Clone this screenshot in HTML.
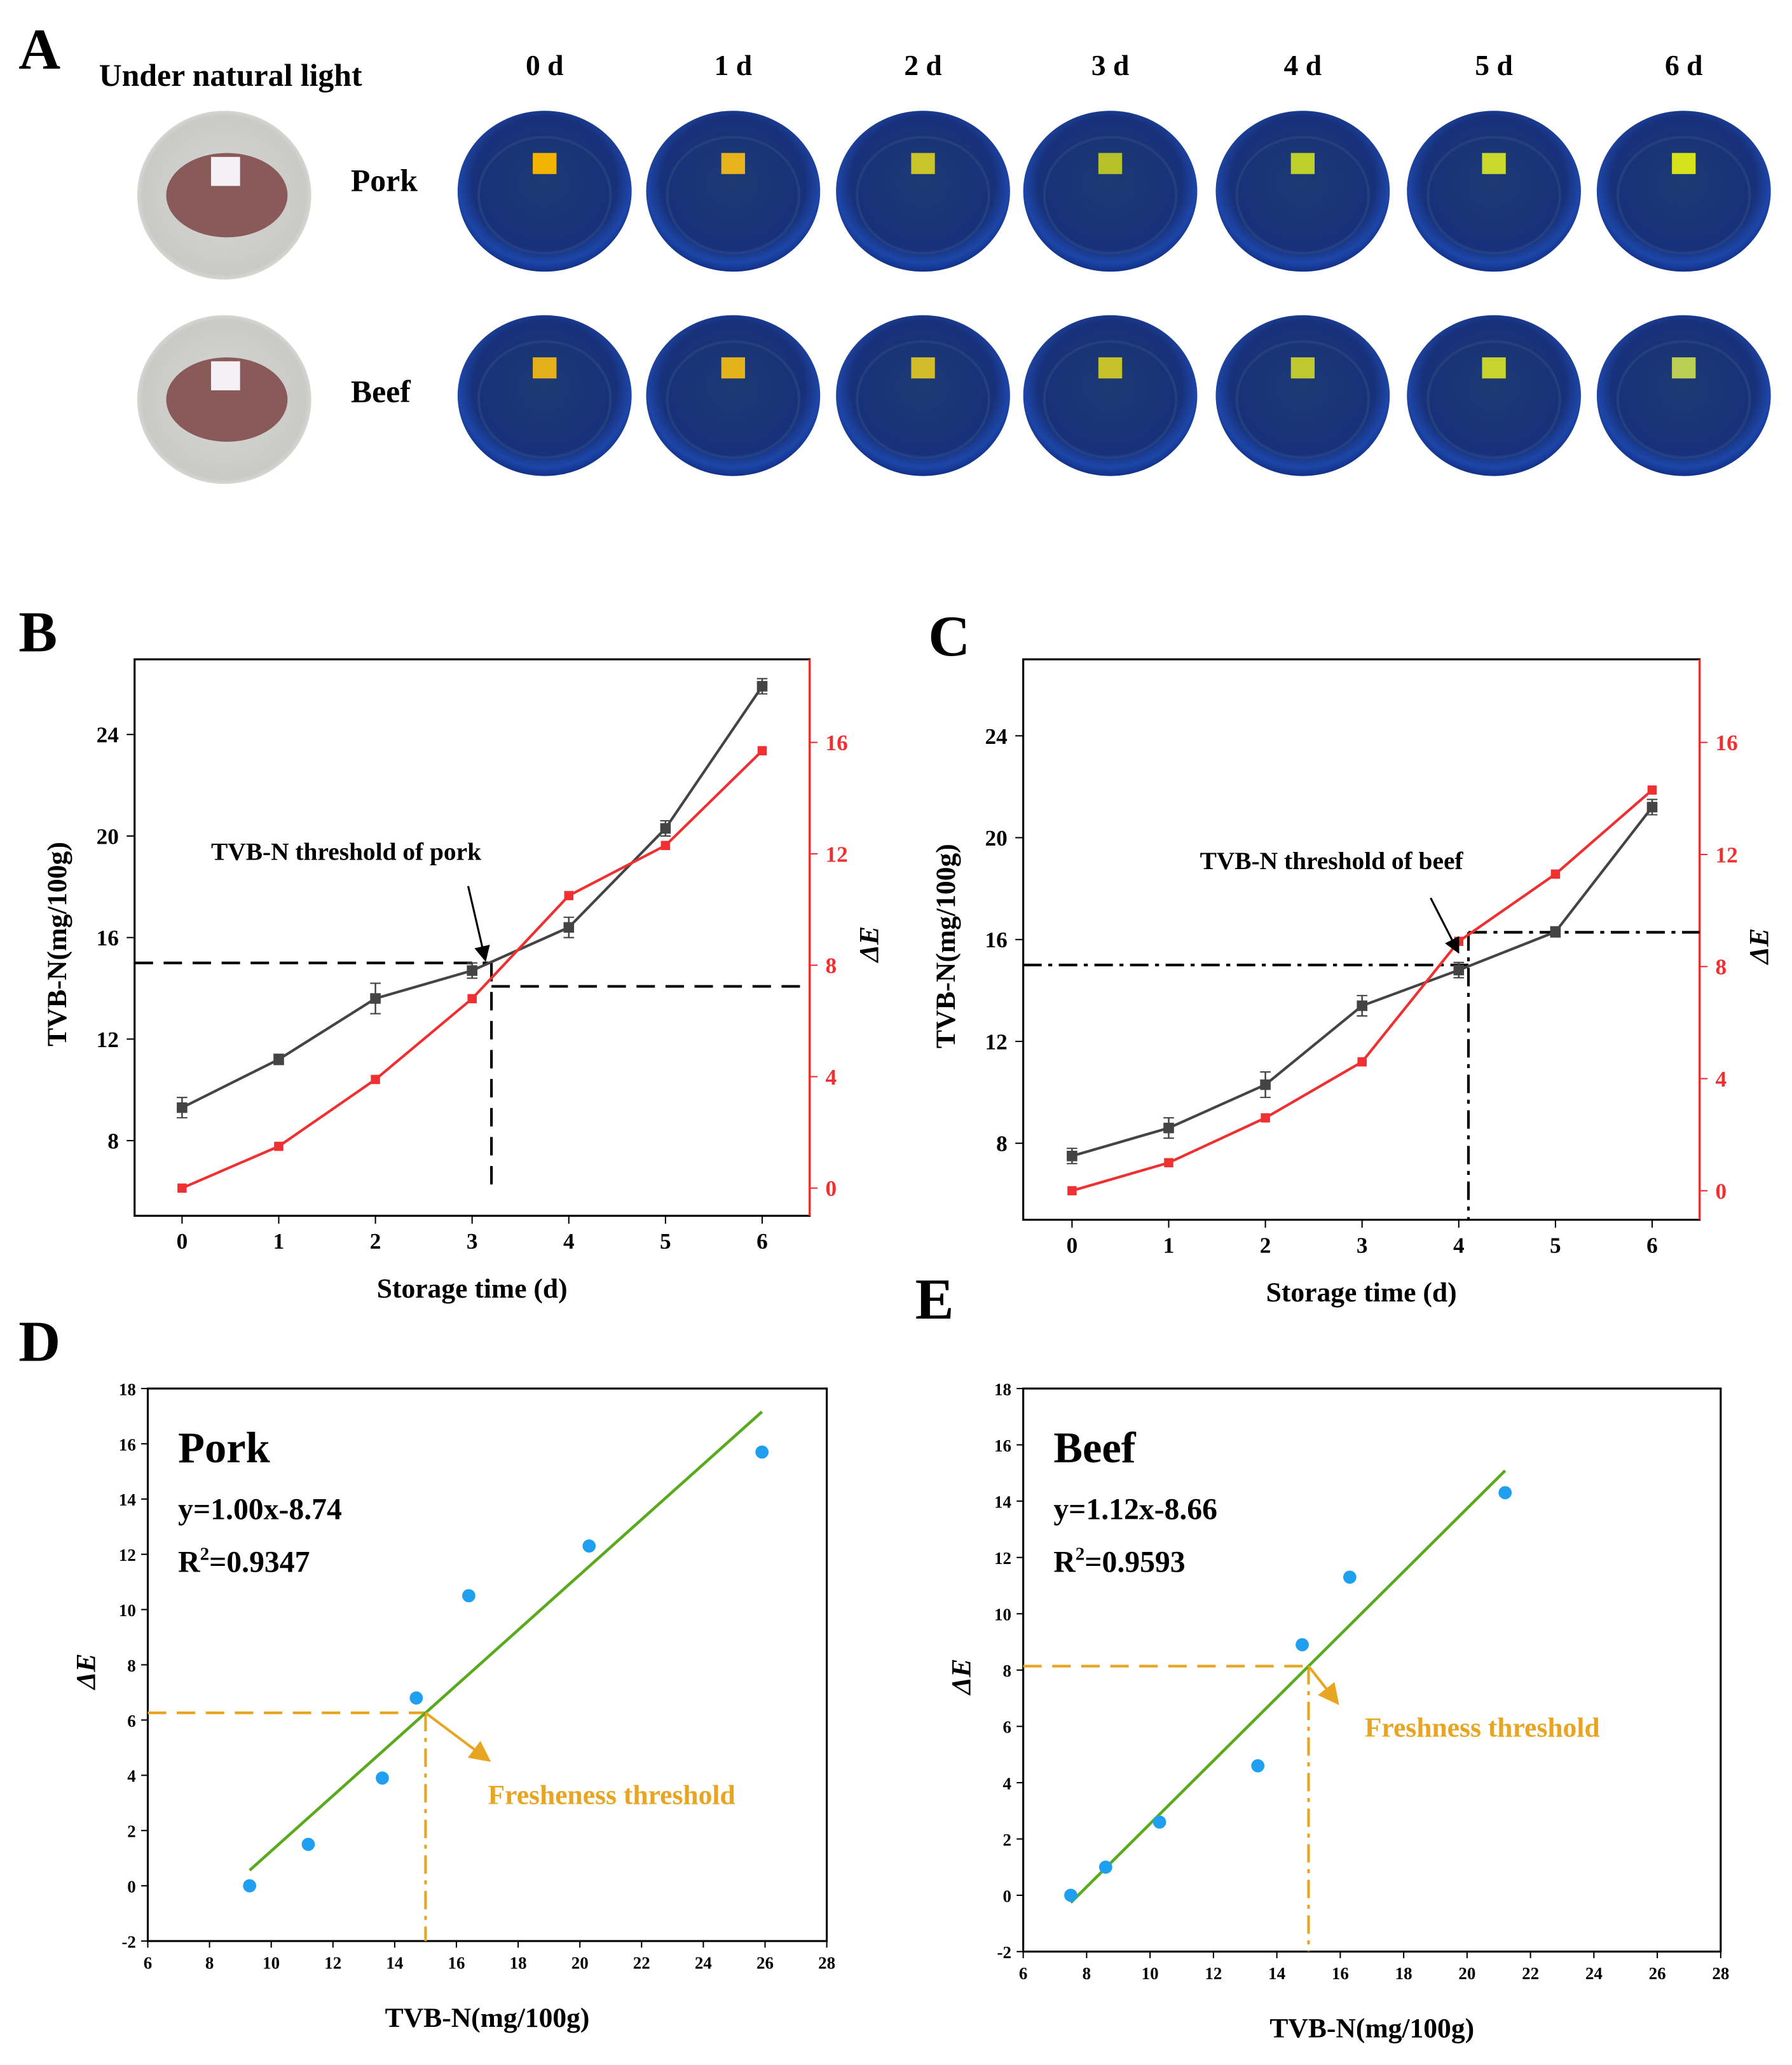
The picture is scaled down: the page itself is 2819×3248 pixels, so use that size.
<!DOCTYPE html>
<html><head><meta charset="utf-8"><style>
html,body{margin:0;padding:0;background:#fff;}
svg{display:block;font-family:"Liberation Serif",serif;font-weight:bold;}
</style></head><body>
<svg id="fig" width="2819" height="3248" viewBox="0 0 1359 1566" xmlns="http://www.w3.org/2000/svg">
<defs>
<radialGradient id="dish" cx="50%" cy="45%" r="55%"><stop offset="0" stop-color="#1d3a73"/><stop offset="0.75" stop-color="#18317a"/><stop offset="0.9" stop-color="#1d46a8"/><stop offset="1" stop-color="#123088"/></radialGradient>
<radialGradient id="plate" cx="50%" cy="50%" r="55%"><stop offset="0" stop-color="#d8d8d6"/><stop offset="0.85" stop-color="#c9c9c6"/><stop offset="1" stop-color="#e8e8e6"/></radialGradient>
<marker id="ah" markerWidth="8" markerHeight="8" refX="7" refY="4" orient="auto"><path d="M0,0 L8,4 L0,8 z" fill="#000"/></marker>
<marker id="aho" markerWidth="8" markerHeight="8" refX="7" refY="4" orient="auto"><path d="M0,0 L8,4 L0,8 z" fill="#e8a522"/></marker>
</defs>
<g id="panelA"></g>
<g id="panelB"></g>
<g id="panelC"></g>
<g id="panelD"></g>
<g id="panelE"></g>
</svg>
<script>
const days = [0,1,2,3,4,5,6];
const dayLabels = ["0 d","1 d","2 d","3 d","4 d","5 d","6 d"];
const porkTVBN = [9.3,11.2,13.6,14.7,16.4,20.3,25.9];
const porkTVBNErr = [0.4,0.2,0.6,0.3,0.4,0.3,0.3];
const porkDE = [0,1.5,3.9,6.8,10.5,12.3,15.7];
const beefTVBN = [7.5,8.6,10.3,13.4,14.8,16.3,21.2];
const beefTVBNErr = [0.3,0.4,0.5,0.4,0.3,0.2,0.3];
const beefDE = [0,1.0,2.6,4.6,8.9,11.3,14.3];
const leftTicks = [8,12,16,20,24];
const rightTicks = [0,4,8,12,16];
const regTicksY = [-2,0,2,4,6,8,10,12,14,16,18];
const regTicksX = [6,8,10,12,14,16,18,20,22,24,26,28];
const porkFit = [1.00,-8.74];
const beefFit = [1.12,-8.66];
const threshold = 15;
const porkSensorColors = ["#f2b400","#e8b21a","#c9c42a","#b6c22a","#bfcf2a","#c9d92c","#d6e21a"];
const beefSensorColors = ["#e3b01c","#e6b21a","#d2bc2a","#c5c22a","#bfc82e","#c8d42e","#bccf55"];

const NS="http://www.w3.org/2000/svg";
function mk(parent,tag,attrs,text){const e=document.createElementNS(NS,tag);for(const k in attrs)e.setAttribute(k,attrs[k]);if(text!==undefined)e.textContent=text;parent.appendChild(e);return e;}

// Panel A
const A=document.getElementById('panelA');
let t=mk(A,'text',{x:14,y:52,'font-size':44},'A');


t=mk(A,'text',{x:75,y:65,'font-size':24},'Under natural light');


const dishX=[413,556,700,842,988,1133,1277];
[["Pork",145,porkSensorColors,137],["Beef",300,beefSensorColors,297]].forEach(([nm,cy,cols,ly])=>{
  const p=mk(A,'ellipse',{cx:170,cy:cy+3,rx:66,ry:64,fill:'url(#plate)'});
  
  
  mk(A,'ellipse',{cx:172,cy:cy+3,rx:46,ry:32,fill:'#8a5a5a'});
  mk(A,'rect',{x:160,y:cy-26,width:22,height:22,fill:'#f4f0f4'});
  const l=mk(A,'text',{x:266,y:ly+8,'font-size':24},nm);
  
  
  dishX.forEach((x,i)=>{
    const d=mk(A,'ellipse',{cx:x,cy:cy,rx:66,ry:61,fill:'url(#dish)'});
    
    
    mk(A,'ellipse',{cx:x,cy:cy+3,rx:50,ry:44,fill:'none',stroke:'#2a4a80','stroke-width':2,opacity:0.6});
    const s=mk(A,'rect',{x:x-9,y:cy-29,width:18,height:16,fill:cols[i]});
    
    
  });
});
dayLabels.forEach((d,i)=>{const e=mk(A,'text',{x:dishX[i],y:57,'font-size':22,'text-anchor':'middle'},d);

});

// dual axis chart
function dual(G,cfg){
  const {x0,x1,y0,y1,lx0,lx6,ly8,ly24,ry0,ry16,tv,err,de}=cfg;
  const sx=d=>lx0+(lx6-lx0)*d/6;
  const syl=v=>ly8+(ly24-ly8)*(v-8)/16;
  const syr=v=>ry0+(ry16-ry0)*v/16;
  let e=mk(G,'text',{x:cfg.lbx,y:cfg.lby,'font-size':44},cfg.label);
  
  
  e=mk(G,'rect',{x:x0,y:y0,width:x1-x0,height:y1-y0,fill:'none',stroke:'#000','stroke-width':1.5});
  
  
  mk(G,'line',{x1:x1,y1:y0,x2:x1,y2:y1,stroke:'#f03030','stroke-width':1.5});
  days.forEach(d=>{mk(G,'line',{x1:sx(d),y1:y1,x2:sx(d),y2:y1+6,stroke:'#000'});
    const l=mk(G,'text',{x:sx(d),y:y1+25,'font-size':17,'text-anchor':'middle'},String(d));
    
    });
  leftTicks.forEach(v=>{mk(G,'line',{x1:x0-6,y1:syl(v),x2:x0,y2:syl(v),stroke:'#000'});
    const l=mk(G,'text',{x:x0-12,y:syl(v)+6,'font-size':17,'text-anchor':'end'},String(v));
    
    });
  rightTicks.forEach(v=>{mk(G,'line',{x1:x1,y1:syr(v),x2:x1+6,y2:syr(v),stroke:'#f03030'});
    const l=mk(G,'text',{x:x1+12,y:syr(v)+6,'font-size':17,fill:'#f03030'},String(v));
    
    });
  e=mk(G,'text',{x:(x0+x1)/2,y:y1+62,'font-size':21,'text-anchor':'middle'},'Storage time (d)');
  
  
  e=mk(G,'text',{x:0,y:0,'font-size':21,'text-anchor':'middle',transform:`translate(${x0-52},${(y0+y1)/2+5}) rotate(-90)`},'TVB-N(mg/100g)');
  
  
  e=mk(G,'text',{x:0,y:0,'font-size':21,'font-style':'italic','text-anchor':'middle',transform:`translate(${x1+52},${(y0+y1)/2+5}) rotate(-90)`},'ΔE');
  
  
  // guides
  cfg.guides(G,sx,syl,syr);
  e=mk(G,'polyline',{points:days.map(d=>sx(d)+','+syl(tv[d])).join(' '),fill:'none',stroke:'#444','stroke-width':2});
  
  
  days.forEach(d=>{mk(G,'line',{x1:sx(d),y1:syl(tv[d]-err[d]),x2:sx(d),y2:syl(tv[d]+err[d]),stroke:'#444','stroke-width':1.2});
    mk(G,'line',{x1:sx(d)-4,y1:syl(tv[d]-err[d]),x2:sx(d)+4,y2:syl(tv[d]-err[d]),stroke:'#444'});
    mk(G,'line',{x1:sx(d)-4,y1:syl(tv[d]+err[d]),x2:sx(d)+4,y2:syl(tv[d]+err[d]),stroke:'#444'});
    const p=mk(G,'rect',{x:sx(d)-4,y:syl(tv[d])-4,width:8,height:8,fill:'#444'});
    
    });
  e=mk(G,'polyline',{points:days.map(d=>sx(d)+','+syr(de[d])).join(' '),fill:'none',stroke:'#f03030','stroke-width':2});
  
  
  days.forEach(d=>{const p=mk(G,'rect',{x:sx(d)-3.5,y:syr(de[d])-3.5,width:7,height:7,fill:'#f03030'});
    
    });
  e=mk(G,'text',{x:cfg.ax,y:cfg.ay,'font-size':19},cfg.annot);
  
  
  mk(G,'line',{x1:cfg.ar[0],y1:cfg.ar[1],x2:cfg.ar[2],y2:cfg.ar[3],stroke:'#000','stroke-width':1.5,'marker-end':'url(#ah)'});
}
dual(document.getElementById('panelB'),{label:'B',lbx:14,lby:494,x0:102,x1:614,y0:500,y1:922,lx0:138,lx6:578,ly8:865,ly24:557,ry0:901,ry16:563,tv:porkTVBN,err:porkTVBNErr,de:porkDE,
 annot:'TVB-N threshold of pork',ax:160,ay:652,ar:[355,672,368,728],
 guides:(G,sx,syl,syr)=>{const xt=sx(3.2);const yt=syl(threshold);
  mk(G,'line',{x1:102,y1:yt,x2:xt,y2:yt,stroke:'#000','stroke-width':2,'stroke-dasharray':'14,8'});
  mk(G,'line',{x1:xt,y1:748,x2:614,y2:748,stroke:'#000','stroke-width':2,'stroke-dasharray':'14,8'});
  mk(G,'line',{x1:xt,y1:yt,x2:xt,y2:906,stroke:'#000','stroke-width':2,'stroke-dasharray':'14,8'});}});
dual(document.getElementById('panelC'),{label:'C',lbx:704,lby:497,x0:776,x1:1289,y0:500,y1:925,lx0:813,lx6:1253,ly8:867,ly24:558,ry0:903,ry16:563,tv:beefTVBN,err:beefTVBNErr,de:beefDE,
 annot:'TVB-N threshold of beef',ax:910,ay:659,ar:[1085,681,1106,722],
 guides:(G,sx,syl,syr)=>{const xt=sx(4.1);const yt=syl(threshold);
  mk(G,'line',{x1:776,y1:yt,x2:xt,y2:yt,stroke:'#000','stroke-width':2,'stroke-dasharray':'14,5,3,5'});
  mk(G,'line',{x1:xt,y1:707,x2:1289,y2:707,stroke:'#000','stroke-width':2,'stroke-dasharray':'14,5,3,5'});
  mk(G,'line',{x1:xt,y1:707,x2:xt,y2:925,stroke:'#000','stroke-width':2,'stroke-dasharray':'14,5,3,5'});}});

// regression charts
function reg(G,cfg){
  const {x0,x1,y0,y1,tv,de,fit}=cfg;
  const sx=v=>x0+(x1-x0)*(v-6)/22;
  const sy=v=>y1+(y0-y1)*(v+2)/20;
  let e=mk(G,'text',{x:cfg.lbx,y:cfg.lby,'font-size':44},cfg.label);
  
  
  e=mk(G,'rect',{x:x0,y:y0,width:x1-x0,height:y1-y0,fill:'none',stroke:'#000','stroke-width':1.5});
  
  
  regTicksX.forEach(v=>{mk(G,'line',{x1:sx(v),y1:y1,x2:sx(v),y2:y1+5,stroke:'#000'});
    const l=mk(G,'text',{x:sx(v),y:y1+21,'font-size':13,'text-anchor':'middle'},String(v));
    
    });
  regTicksY.forEach(v=>{mk(G,'line',{x1:x0-5,y1:sy(v),x2:x0,y2:sy(v),stroke:'#000'});
    const l=mk(G,'text',{x:x0-9,y:sy(v)+5,'font-size':13,'text-anchor':'end'},String(v));
    
    });
  e=mk(G,'text',{x:(x0+x1)/2,y:y1+65,'font-size':21,'text-anchor':'middle'},'TVB-N(mg/100g)');
  
  
  e=mk(G,'text',{x:0,y:0,'font-size':21,'font-style':'italic','text-anchor':'middle',transform:`translate(${x0-40},${(y0+y1)/2+5}) rotate(-90)`},'ΔE');
  
  
  const ty=fit[0]*threshold+fit[1];
  mk(G,'line',{x1:x0,y1:sy(ty),x2:sx(threshold),y2:sy(ty),stroke:'#e8a522','stroke-width':2,'stroke-dasharray':'14,8'});
  mk(G,'line',{x1:sx(threshold),y1:sy(ty),x2:sx(threshold),y2:y1,stroke:'#e8a522','stroke-width':2,'stroke-dasharray':'14,5,3,5'});
  const xa=Math.min(...tv),xb=Math.max(...tv);
  e=mk(G,'line',{x1:sx(xa),y1:sy(fit[0]*xa+fit[1]),x2:sx(xb),y2:sy(fit[0]*xb+fit[1]),stroke:'#5aaa1e','stroke-width':2.2});
  
  
  tv.forEach((v,i)=>{const p=mk(G,'circle',{cx:sx(v),cy:sy(de[i]),r:5,fill:'#1e9ff0'});
    
    });
  mk(G,'line',{x1:sx(threshold),y1:sy(ty),x2:sx(threshold)+cfg.arr[0],y2:sy(ty)+cfg.arr[1],stroke:'#e8a522','stroke-width':2,'marker-end':'url(#aho)'});
  e=mk(G,'text',{x:cfg.tx,y:cfg.ty,'font-size':21,fill:'#e8a522'},cfg.thText);
  
  
  e=mk(G,'text',{x:x0+23,y:y0+56,'font-size':33},cfg.name);
  
  
  e=mk(G,'text',{x:x0+23,y:y0+99,'font-size':23},cfg.eq);
  
  
  e=mk(G,'text',{x:x0+23,y:y0+139,'font-size':23});
  
  
  e.innerHTML='R<tspan dy="-9" font-size="14">2</tspan><tspan dy="9">='+cfg.r2+'</tspan>';
}
reg(document.getElementById('panelD'),{label:'D',lbx:14,lby:1032,x0:112,x1:627,y0:1053,y1:1472,tv:porkTVBN,de:porkDE,fit:porkFit,name:'Pork',eq:'y=1.00x-8.74',r2:'0.9347',thText:'Fresheness threshold',tx:370,ty:1368,arr:[48,36]});
reg(document.getElementById('panelE'),{label:'E',lbx:694,lby:1000,x0:776,x1:1305,y0:1053,y1:1480,tv:beefTVBN,de:beefDE,fit:beefFit,name:'Beef',eq:'y=1.12x-8.66',r2:'0.9593',thText:'Freshness threshold',tx:1035,ty:1317,arr:[22,28]});
</script>
</body></html>
